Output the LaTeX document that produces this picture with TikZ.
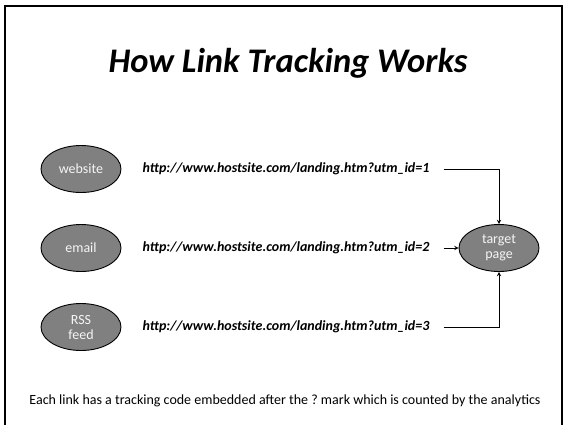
\documentclass[tikz,border=0pt]{standalone}
\usepackage{fontspec}
\setmainfont{Carlito}
\usepackage{tikz}
\usetikzlibrary{arrows,calc,shapes.geometric}

\tikzset{
  source/.style={shape=ellipse,draw,line width=0.9pt,fill=gray,text=white!92!gray,
    minimum width=80pt,minimum height=47pt,inner sep=0pt,align=center,
    font=\fontsize{14}{15}\selectfont},
  link/.style={font=\fontsize{14}{16}\selectfont\bfseries\itshape,inner sep=2pt},
}

\begin{document}
\begin{tikzpicture}[x=1pt,y=-1pt,>=stealth]
\useasboundingbox (0,0) rectangle (565,424);
\draw[line width=2pt] (4.5,430) -- (4.5,5.5) -- (561.5,5.5) -- (561.5,430);

\node(title) at (288,72)[anchor=base] {\fontsize{34.5}{36}\selectfont\bfseries\itshape How Link Tracking Works};

\node(website) at (81,169)[source]        {website};
\node(email)   at (81,248)[source]        {email};
\node(rss)     at (81,327)[source]        {RSS\\feed};
\node(target)  at (499,248)[source]       {target\\page};

\node(url1) at (286,169)[link]  {http://www.hostsite.com/landing.htm?utm\_id=1};
\node(url2) at (286,248)[link]  {http://www.hostsite.com/landing.htm?utm\_id=2};
\node(url3) at (286,327)[link]  {http://www.hostsite.com/landing.htm?utm\_id=3};

\draw [->,line width=0.9pt] ([xshift=12pt]url1.east) -| (target);
\draw [->,line width=0.9pt] ([xshift=12pt]url2.east) -- (target);
\draw [->,line width=0.9pt] ([xshift=12pt]url3.east) -| (target);

\node(note) at (285,401) {\fontsize{14}{16}\selectfont\frenchspacing Each link has a tracking code embedded after the ? mark which is counted by the analytics};

\end{tikzpicture}
\end{document}
